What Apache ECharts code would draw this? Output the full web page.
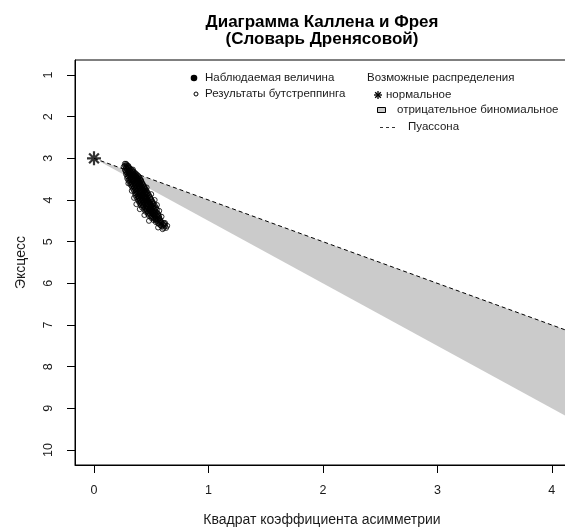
<!DOCTYPE html>
<html>
<head>
<meta charset="utf-8">
<script src="https://cdn.jsdelivr.net/npm/echarts@6/dist/echarts.min.js"></script>
<style>html,body{margin:0;padding:0;background:#fff}#c{width:565px;height:528px}</style>
</head>
<body>
<div id="c"></div>
<script>
const titleLines = ['Диаграмма Каллена и Фрея', '(Словарь Дренясовой)'];
const xAxisName = 'Квадрат коэффициента асимметрии';
const yAxisName = 'Эксцесс';
const xTicks = [0, 1, 2, 3, 4];
const yTicks = [1, 2, 3, 4, 5, 6, 7, 8, 9, 10];
const legendLeft = ['Наблюдаемая величина', 'Результаты бутстреппинга'];
const legendRightTitle = 'Возможные распределения';
const legendRight = ['нормальное', 'отрицательное биномиальное', 'Пуассона'];

const normalPoint = [[0, 3]];
const observedPoint = [[0.42, 3.88]];
const poissonLine = [[0, 3], [4.15, 7.15]];
const negBinUpper = [[0.05, 3.05], [4.15, 7.15]];
const negBinLower = [[0.05, 3.075], [4.15, 9.225]];
// bootstrap cloud, read row by row: [kurtosis, [squared skewness values]]
const bootstrapRows = [
  [3.13, [0.27, 0.28]],
  [3.155, [0.285]],
  [3.18, [0.27, 0.29, 0.30]],
  [3.205, [0.28, 0.30]],
  [3.23, [0.28, 0.30, 0.31]],
  [3.255, [0.29, 0.32]],
  [3.28, [0.27, 0.29, 0.31, 0.33]],
  [3.305, [0.28, 0.30, 0.32, 0.34]],
  [3.33, [0.28, 0.30, 0.32, 0.34, 0.35]],
  [3.355, [0.29, 0.31, 0.34, 0.36]],
  [3.38, [0.28, 0.31, 0.33, 0.35, 0.37]],
  [3.405, [0.30, 0.32, 0.34, 0.36, 0.38]],
  [3.43, [0.29, 0.31, 0.33, 0.35, 0.37, 0.39]],
  [3.455, [0.30, 0.32, 0.35, 0.37, 0.39]],
  [3.48, [0.29, 0.32, 0.34, 0.36, 0.38, 0.40]],
  [3.505, [0.31, 0.34, 0.36, 0.38, 0.40]],
  [3.53, [0.30, 0.33, 0.35, 0.37, 0.39, 0.41]],
  [3.555, [0.32, 0.34, 0.37, 0.39, 0.41]],
  [3.58, [0.31, 0.33, 0.36, 0.38, 0.40, 0.42]],
  [3.605, [0.33, 0.35, 0.38, 0.40, 0.42]],
  [3.63, [0.32, 0.34, 0.37, 0.39, 0.41, 0.43]],
  [3.655, [0.34, 0.36, 0.39, 0.41, 0.43]],
  [3.68, [0.33, 0.35, 0.38, 0.40, 0.42, 0.44]],
  [3.705, [0.35, 0.37, 0.40, 0.42, 0.44]],
  [3.73, [0.34, 0.36, 0.39, 0.41, 0.43, 0.45]],
  [3.755, [0.36, 0.38, 0.41, 0.43, 0.45]],
  [3.78, [0.35, 0.37, 0.40, 0.42, 0.44, 0.46]],
  [3.805, [0.37, 0.39, 0.41, 0.44, 0.46]],
  [3.83, [0.36, 0.38, 0.40, 0.43, 0.45, 0.47]],
  [3.855, [0.37, 0.40, 0.42, 0.45, 0.47]],
  [3.88, [0.36, 0.39, 0.41, 0.43, 0.46, 0.48]],
  [3.905, [0.38, 0.40, 0.43, 0.45, 0.48]],
  [3.93, [0.37, 0.39, 0.42, 0.44, 0.46, 0.49]],
  [3.955, [0.39, 0.41, 0.44, 0.46, 0.49]],
  [3.98, [0.38, 0.40, 0.43, 0.45, 0.47, 0.50]],
  [4.005, [0.40, 0.42, 0.45, 0.47, 0.50]],
  [4.03, [0.39, 0.41, 0.44, 0.46, 0.48, 0.51]],
  [4.055, [0.41, 0.43, 0.46, 0.48, 0.51]],
  [4.08, [0.40, 0.42, 0.45, 0.47, 0.49, 0.52]],
  [4.105, [0.42, 0.44, 0.47, 0.49, 0.52]],
  [4.13, [0.41, 0.43, 0.46, 0.48, 0.50, 0.53]],
  [4.155, [0.43, 0.46, 0.48, 0.50, 0.52]],
  [4.18, [0.42, 0.45, 0.47, 0.49, 0.51, 0.54]],
  [4.205, [0.45, 0.47, 0.49, 0.52, 0.54]],
  [4.23, [0.44, 0.46, 0.48, 0.50, 0.53, 0.55]],
  [4.255, [0.46, 0.49, 0.51, 0.53]],
  [4.28, [0.45, 0.47, 0.50, 0.52, 0.54]],
  [4.305, [0.48, 0.50, 0.52, 0.55]],
  [4.33, [0.47, 0.49, 0.51, 0.53, 0.56]],
  [4.355, [0.49, 0.52, 0.54, 0.56]],
  [4.38, [0.48, 0.50, 0.53, 0.55, 0.57]],
  [4.405, [0.51, 0.53, 0.56]],
  [4.43, [0.50, 0.52, 0.54, 0.57]],
  [4.455, [0.53, 0.55, 0.57]],
  [4.48, [0.52, 0.54, 0.56, 0.58]],
  [4.505, [0.55, 0.58]],
  [4.53, [0.54, 0.57, 0.59]],
  [4.555, [0.56, 0.59, 0.61]],
  [4.58, [0.57, 0.60, 0.62]],
  [4.605, [0.58, 0.61]],
  [4.63, [0.59, 0.62]],
  [4.67, [0.61, 0.63]]
];
const bootstrapOutliers = [
  [0.26,3.20],[0.34,3.27],[0.41,3.52],[0.30,3.60],[0.46,3.70],[0.33,3.78],[0.50,3.86],
  [0.35,3.95],[0.53,4.00],[0.37,4.10],[0.55,4.12],[0.40,4.22],[0.57,4.26],[0.44,4.36],
  [0.59,4.40],[0.48,4.50],[0.62,4.55],[0.56,4.66],[0.64,4.62],[0.60,4.70]
];
const bootstrapPoints = [];
bootstrapRows.forEach(r => r[1].forEach(x => bootstrapPoints.push([x, r[0]])));
bootstrapOutliers.forEach(p => bootstrapPoints.push(p));

const FONT = 'Liberation Sans, Arial, sans-serif';
const asteriskPath = 'path://M5,0L5,10M0,5L10,5M1.5,1.5L8.5,8.5M8.5,1.5L1.5,8.5';
const GRAY = '#cbcbcb';
const TXT = '#1a1a1a';

function starLines(cx, cy, r, w) {
  const d = r * 0.7071;
  return [[0, -r, 0, r], [-r, 0, r, 0], [-d, -d, d, d], [d, -d, -d, d]].map(s => ({
    type: 'line', shape: {x1: cx + s[0], y1: cy + s[1], x2: cx + s[2], y2: cy + s[3]},
    style: {stroke: '#000', lineWidth: w}
  }));
}
function legendText(x, y, t) {
  return {type: 'text', x: x, y: y, style: {text: t, font: '11.5px ' + FONT, fill: TXT, verticalAlign: 'middle'}};
}

const chart = echarts.init(document.getElementById('c'), null, {renderer: 'canvas'});
chart.setOption({
  animation: false,
  backgroundColor: '#fff',
  title: {
    text: titleLines.join('\n'),
    left: 317, top: 9, textAlign: 'center',
    textStyle: {fontFamily: FONT, fontSize: 17, fontWeight: 'bold', color: '#000', lineHeight: 17}
  },
  grid: {left: 75, top: 60, right: -4, bottom: 63, show: true, borderColor: '#000', borderWidth: 1,
         containLabel: false, outerBoundsMode: 'none'},
  xAxis: {
    type: 'value', min: -0.166, max: 4.15,
    name: xAxisName, nameLocation: 'middle', nameGap: 48,
    nameTextStyle: {fontFamily: FONT, fontSize: 14, color: TXT},
    axisLine: {show: true, onZero: false, lineStyle: {color: '#000', width: 1}},
    axisTick: {show: true, length: 8, customValues: xTicks, lineStyle: {color: '#000'}},
    axisLabel: {customValues: xTicks, margin: 19, fontFamily: FONT, fontSize: 12.5, color: TXT},
    splitLine: {show: false}
  },
  yAxis: {
    type: 'value', inverse: true, min: 0.64, max: 10.36,
    name: yAxisName, nameLocation: 'middle', nameGap: 47, nameRotate: 90,
    nameTextStyle: {fontFamily: FONT, fontSize: 14, color: TXT},
    axisLine: {show: true, onZero: false, lineStyle: {color: '#000', width: 1}},
    axisTick: {show: true, length: 8, customValues: yTicks, lineStyle: {color: '#000'}},
    axisLabel: {customValues: yTicks, rotate: 90, margin: 20, fontFamily: FONT, fontSize: 12.5, color: TXT},
    splitLine: {show: false}
  },
  series: [
    {
      type: 'custom', clip: true, z: 1,
      data: [0],
      renderItem: function (params, api) {
        const pts = negBinUpper.map(p => api.coord(p)).concat(negBinLower.slice().reverse().map(p => api.coord(p)));
        return {type: 'polygon', shape: {points: pts}, style: {fill: GRAY, stroke: null}};
      }
    },
    {
      type: 'line', data: poissonLine, symbol: 'none', z: 3,
      lineStyle: {color: '#000', width: 1, type: [4, 3]}
    },
    {
      type: 'scatter', data: bootstrapPoints, symbol: 'circle', symbolSize: 5, z: 4,
      itemStyle: {color: 'rgba(0,0,0,0)', borderColor: '#000', borderWidth: 1}
    },
    {
      type: 'scatter', data: observedPoint, symbol: 'circle', symbolSize: 7, z: 5,
      itemStyle: {color: '#000'}
    },
    {
      type: 'scatter', data: normalPoint, symbol: asteriskPath, symbolSize: 14, z: 5,
      itemStyle: {color: 'rgba(0,0,0,0)', borderColor: '#000', borderWidth: 2.2}
    }
  ],
  graphic: [
    {type: 'circle', shape: {cx: 194, cy: 78, r: 3.3}, style: {fill: '#000'}},
    legendText(205, 78, legendLeft[0]),
    {type: 'circle', shape: {cx: 196, cy: 94, r: 2}, style: {fill: 'none', stroke: '#000', lineWidth: 1}},
    legendText(205, 94, legendLeft[1]),
    legendText(367, 78, legendRightTitle)
  ].concat(starLines(378, 95, 4, 1.3)).concat([
    legendText(386, 95, legendRight[0]),
    {type: 'rect', shape: {x: 377.5, y: 107.5, width: 8, height: 5}, style: {fill: GRAY, stroke: '#000', lineWidth: 1}},
    legendText(397, 110, legendRight[1]),
    {type: 'line', shape: {x1: 380, y1: 127.5, x2: 397, y2: 127.5}, style: {stroke: '#333', lineWidth: 1, lineDash: [3, 3]}},
    legendText(408, 127, legendRight[2])
  ])
});
</script>
</body>
</html>
